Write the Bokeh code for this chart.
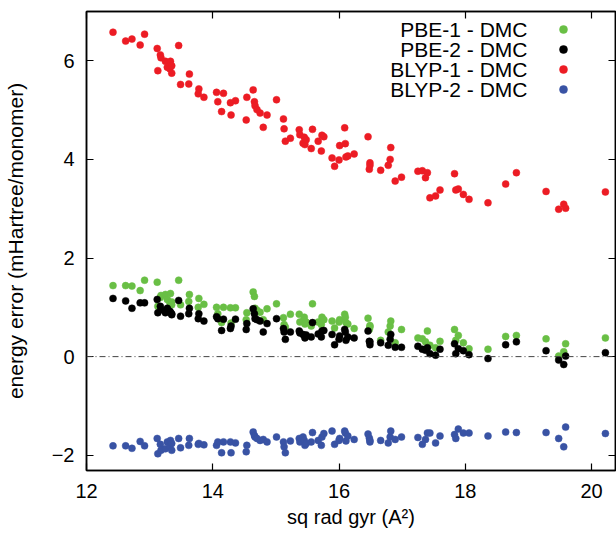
from bokeh.plotting import figure
from bokeh.models import (Range1d, LinearAxis, FixedTicker, Span, Label, Legend,
                          LegendItem, CustomJSTickFormatter)
from bokeh.core.properties import value
from bokeh.embed import file_html
from bokeh.resources import INLINE

# ---------------- data ----------------
sq_rad_gyr = [12.42, 12.62, 12.72, 12.85, 12.92, 13.12, 13.13, 13.17, 13.18, 13.25,
              13.28, 13.32, 13.33, 13.35, 13.35, 13.46, 13.49, 13.62, 13.63, 13.77,
              13.78, 13.86, 14.06, 14.08, 14.14, 14.17, 14.28, 14.29, 14.36, 14.53,
              14.54, 14.64, 14.66, 14.67, 14.70, 14.75, 14.80, 14.86, 15.01, 15.12,
              15.13, 15.15, 15.23, 15.37, 15.38, 15.43, 15.45, 15.46, 15.48, 15.56,
              15.58, 15.67, 15.72, 15.73, 15.76, 15.89, 15.93, 16.00, 16.01, 16.09,
              16.10, 16.11, 16.14, 16.24, 16.46, 16.48, 16.49, 16.49, 16.66, 16.78,
              16.81, 16.82, 16.89, 16.99, 17.25, 17.32, 17.37, 17.40, 17.44, 17.53,
              17.60, 17.83, 17.85, 17.89, 17.97, 18.06, 18.36, 18.64, 18.81, 19.28,
              19.48, 19.56, 19.59, 20.22]

blyp1_dmc = [6.58, 6.40, 6.44, 6.32, 6.54, 6.25, 5.80, 6.12, 6.06, 5.99,
             5.87, 5.84, 5.99, 5.90, 5.75, 6.31, 5.52, 5.53, 5.73, 5.33,
             5.43, 5.26, 5.36, 5.17, 4.97, 5.34, 5.15, 4.90, 5.19, 4.80,
             5.26, 5.41, 5.17, 5.09, 5.01, 4.94, 4.65, 4.90, 5.21, 4.82,
             4.62, 4.37, 4.43, 4.60, 4.50, 4.33, 4.45, 4.30, 4.40, 4.22,
             4.61, 4.37, 4.17, 4.49, 4.46, 4.03, 3.86, 3.99, 4.28, 4.64,
             4.32, 4.05, 4.07, 4.11, 4.46, 3.80, 3.93, 3.88, 3.78, 3.88,
             4.00, 4.24, 3.56, 3.64, 3.76, 3.77, 3.63, 3.73, 3.22, 3.26,
             3.38, 3.71, 3.38, 3.40, 3.29, 3.19, 3.12, 3.50, 3.73, 3.35,
             2.99, 3.09, 3.01, 3.34]

pbe1_dmc = [1.44, 1.44, 1.43, 1.34, 1.55, 1.51, 1.02, 1.20, 1.24, 1.26,
            1.16, 1.10, 1.28, 1.11, 1.05, 1.55, 1.05, 1.12, 1.26, 1.00,
            1.18, 1.06, 1.00, 0.87, 0.69, 1.00, 0.99, 0.68, 0.99, 0.75,
            0.89, 1.31, 1.22, 0.98, 0.94, 0.90, 0.75, 0.97, 1.07, 0.79,
            0.65, 0.60, 0.86, 0.86, 0.70, 0.72, 0.80, 0.66, 0.70, 0.62,
            1.07, 0.70, 0.65, 0.80, 0.75, 0.72, 0.58, 0.70, 0.75, 0.86,
            0.80, 0.69, 0.66, 0.57, 0.78, 0.55, 0.63, 0.60, 0.33, 0.50,
            0.62, 0.72, 0.28, 0.55, 0.38, 0.36, 0.30, 0.52, 0.23, 0.18,
            0.31, 0.55, 0.33, 0.43, 0.28, 0.16, 0.15, 0.41, 0.43, 0.36,
            0.01, 0.10, 0.26, 0.38]

pbe2_dmc = [1.18, 1.13, 0.98, 1.09, 1.09, 1.16, 0.89, 1.02, 0.95, 0.89,
            0.98, 0.92, 0.90, 0.87, 0.85, 1.14, 0.82, 0.87, 0.98, 0.77,
            0.87, 0.72, 0.81, 0.77, 0.53, 0.76, 0.57, 0.62, 0.76, 0.55,
            0.67, 0.97, 0.87, 0.77, 0.75, 0.72, 0.50, 0.67, 0.77, 0.57,
            0.50, 0.35, 0.50, 0.52, 0.48, 0.45, 0.43, 0.38, 0.44, 0.40,
            0.69, 0.46, 0.40, 0.52, 0.53, 0.45, 0.24, 0.35, 0.42, 0.55,
            0.50, 0.33, 0.40, 0.38, 0.52, 0.31, 0.30, 0.24, 0.28, 0.23,
            0.35, 0.45, 0.19, 0.19, 0.21, 0.15, 0.13, 0.18, 0.06, 0.03,
            0.15, 0.26, 0.06, 0.16, 0.12, 0.04, -0.04, 0.24, 0.30, 0.12,
            -0.07, -0.16, 0.01, 0.08]

blyp2_dmc = [-1.81, -1.81, -1.86, -1.72, -1.81, -1.66, -1.97, -1.78, -1.90, -1.87,
             -1.73, -1.83, -1.70, -1.90, -1.76, -1.66, -1.85, -1.80, -1.66, -1.78,
             -1.76, -1.79, -1.80, -1.73, -1.95, -1.73, -1.73, -1.95, -1.75, -1.93,
             -1.80, -1.53, -1.60, -1.63, -1.66, -1.70, -1.68, -1.73, -1.63, -1.73,
             -1.83, -1.95, -1.71, -1.66, -1.73, -1.63, -1.70, -1.80, -1.76, -1.73,
             -1.54, -1.70, -1.80, -1.63, -1.56, -1.51, -1.78, -1.70, -1.66, -1.51,
             -1.55, -1.71, -1.61, -1.68, -1.57, -1.65, -1.73, -1.70, -1.70, -1.75,
             -1.63, -1.51, -1.68, -1.63, -1.64, -1.78, -1.68, -1.55, -1.55, -1.75,
             -1.61, -1.58, -1.66, -1.47, -1.55, -1.55, -1.61, -1.53, -1.54, -1.54,
             -1.66, -1.83, -1.43, -1.56]

series_names = ["PBE-1 - DMC", "PBE-2 - DMC", "BLYP-1 - DMC", "BLYP-2 - DMC"]
series_values = [pbe1_dmc, pbe2_dmc, blyp1_dmc, blyp2_dmc]
series_colors = ["#69bf45", "#000000", "#ec1c24", "#3953a4"]

x_ticks = [12, 14, 16, 18, 20]
y_ticks = [-2, 0, 2, 4, 6]

# ---------------- figure ----------------
FONT = "Liberation Sans"
W, H = 616, 533
BL, BR, BT, BB = 77, 1, 11, 63

p = figure(width=W, height=H, x_range=Range1d(12, 20.38), y_range=Range1d(-2.31, 7.0),
           output_backend="svg", toolbar_location=None,
           min_border_left=BL, min_border_right=BR, min_border_top=BT, min_border_bottom=BB)
p.grid.visible = False
p.outline_line_color = "black"
p.outline_line_width = 1.5
p.background_fill_color = "white"
p.border_fill_color = "white"

def style_axis(ax, ticks, show_labels=True):
    ax.ticker = FixedTicker(ticks=ticks)
    ax.major_tick_in = 7
    ax.major_tick_out = 0
    ax.minor_tick_line_color = None
    ax.major_tick_line_color = "black"
    ax.major_tick_line_width = 1.2
    ax.axis_line_color = "black"
    ax.axis_line_width = 1.5
    ax.major_label_text_font = FONT
    ax.major_label_text_font_size = "20px"
    ax.major_label_text_color = "black"
    if not show_labels:
        ax.formatter = CustomJSTickFormatter(code="return ''")
        ax.major_label_standoff = 0

style_axis(p.xaxis[0], x_ticks)
style_axis(p.yaxis[0], y_ticks)
p.xaxis.major_label_standoff = 13
p.yaxis.major_label_standoff = 12
p.xaxis.axis_label = "sq rad gyr (A²)"
p.yaxis.axis_label = "energy error (mHartree/monomer)"
for ax in (p.xaxis[0], p.yaxis[0]):
    ax.axis_label_text_font = FONT
    ax.axis_label_text_font_style = "normal"
    ax.axis_label_text_color = "black"
p.xaxis.axis_label_text_font_size = "20px"
p.yaxis.axis_label_text_font_size = "21px"
p.xaxis.axis_label_standoff = 5
p.yaxis.axis_label_standoff = 22

top_ax = LinearAxis()
right_ax = LinearAxis()
style_axis(top_ax, x_ticks, show_labels=False)
style_axis(right_ax, y_ticks, show_labels=False)
p.add_layout(top_ax, "above")
p.add_layout(right_ax, "right")

# zero reference line
p.add_layout(Span(location=0, dimension="width", line_color="#444444",
                  line_width=1, line_dash="6 3 1 3"))

renderers = []
for name, vals, col in zip(series_names, series_values, series_colors):
    r = p.scatter(sq_rad_gyr, vals, size=7, fill_color=col, line_color=col,
                  line_width=0.5, marker="circle")
    renderers.append(r)

# key: right-aligned text with the marker to its right (gnuplot style)
legend = Legend(items=[LegendItem(label=value(""), renderers=[r]) for r in renderers],
                location="top_right", orientation="vertical",
                glyph_width=88, glyph_height=20, label_width=0, label_standoff=0,
                label_height=20, spacing=0, padding=0, margin=8,
                border_line_color=None, background_fill_alpha=0)
p.add_layout(legend)

frame_w = W - BL - BR
frame_h = H - BT - BB
for i, name in enumerate(series_names):
    p.add_layout(Label(x=frame_w - 97, y=frame_h - 18 - 20 * i,
                       x_units="screen", y_units="screen", text=name,
                       text_align="right", text_baseline="middle",
                       text_font=FONT, text_font_size="21px", text_color="black"))

open("out.html", "w").write(file_html(p, INLINE))
